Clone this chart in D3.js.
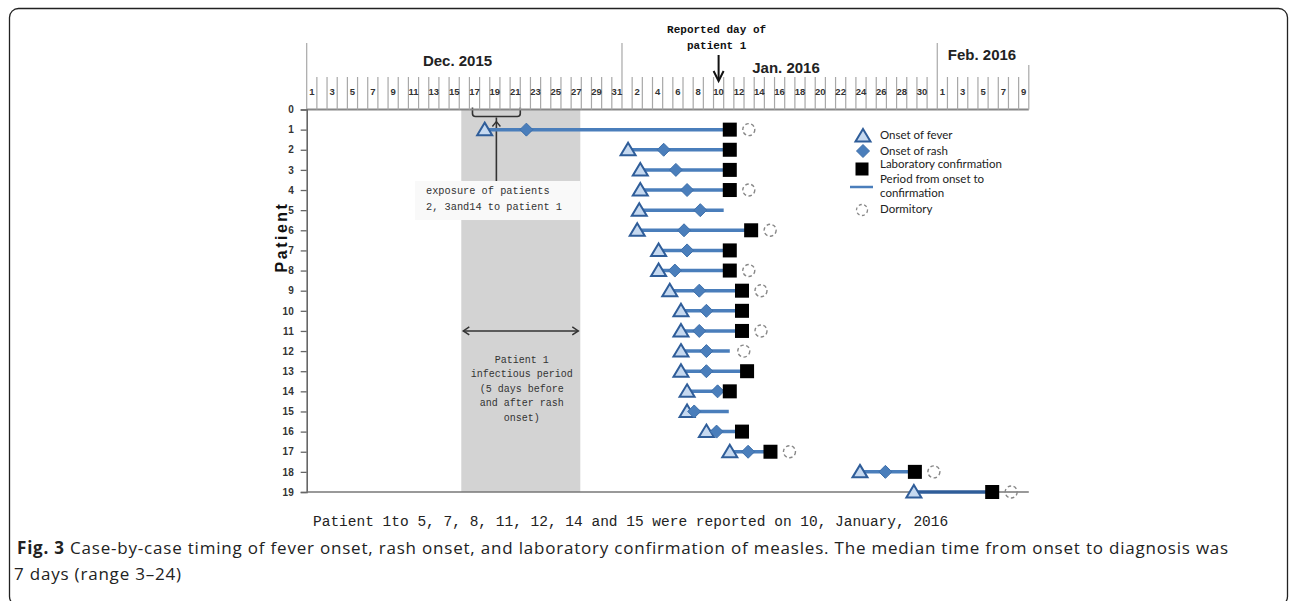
<!DOCTYPE html>
<html>
<head>
<meta charset="utf-8">
<script src="https://cdn.jsdelivr.net/npm/d3@7/dist/d3.min.js"></script>
<style>
  body { margin: 0; background: #fff; }
  svg { display: block; }
</style>
</head>
<body>
<div id="chart"></div>
<script>
// Day numbers counted from Dec 1, 2015 = 1 (Jan 1 = 32, Feb 1 = 63)
const patients = d3.range(1, 20);
const feverOnset = [18.0, 32.1, 33.3, 33.3, 33.2, 33.0, 35.1, 35.1, 36.2, 37.3, 37.3, 37.3, 37.3, 37.9, 37.9, 39.8, 42.1, 54.9, 60.2];
const rashOnset  = [22.1, 35.6, 36.8, 37.9, 39.2, 37.6, 37.9, 36.7, 39.1, 39.8, 39.1, 39.8, 39.8, 40.9, 38.6, 40.8, 43.9, 57.4, null];
const labConfirm = [42.1, 42.1, 42.1, 42.1, null, 44.2, 42.1, 42.1, 43.3, 43.3, 43.3, null, 43.8, 42.1, null, 43.3, 46.1, 60.3, 67.9];
const periodEnd  = [42.1, 42.1, 42.1, 42.1, 41.5, 44.2, 42.1, 42.1, 43.3, 43.3, 43.3, 42.1, 43.8, 42.1, 42.0, 43.3, 46.1, 60.3, 67.9];
const dormitory  = [true, false, false, true, false, true, false, true, true, false, true, true, false, false, false, false, true, true, true];

const months = [
  { name: 'Dec. 2015', days: 31 },
  { name: 'Jan. 2016', days: 31 },
  { name: 'Feb. 2016', days: 9 }
];
const reportDay = 41;              // Jan 10
const infectiousPeriod = [15.7, 27.4];
const exposureWindow = [16.8, 21.5];

const legendItems = ['Onset of fever', 'Onset of rash', 'Laboratory confirmation', 'Period from onset to|confirmation', 'Dormitory'];

const W = 1292, H = 601;
const blue = '#4a7ebb', darkBlue = '#2f5d99', lightBlue = '#c6d9f0';
const mono = '"Liberation Mono", "DejaVu Sans Mono", monospace';
const sans = '"Liberation Sans", Arial, sans-serif';
const capFont = '"Open Sans", "Noto Sans", sans-serif';

const svg = d3.select('#chart').append('svg')
  .attr('width', W).attr('height', H);

// frame
svg.append('rect')
  .attr('x', 9.5).attr('y', 8.5).attr('width', 1278).attr('height', 597)
  .attr('rx', 9).attr('fill', 'none').attr('stroke', '#222').attr('stroke-width', 1.3);

const totalDays = d3.sum(months, m => m.days);
const x = d3.scaleLinear().domain([0.5, totalDays + 0.5]).range([306.7, 1028.8]);
const y = d3.scaleLinear().domain([0, 19]).range([109.5, 492]);

// day labels
const dayList = [];
let start = 0;
months.forEach(m => {
  m.start = start;
  for (let k = 1; k <= m.days; k++) dayList.push({ d: start + k, label: k });
  start += m.days;
});

// infectious period band
svg.append('rect')
  .attr('x', x(infectiousPeriod[0])).attr('y', y(0))
  .attr('width', x(infectiousPeriod[1]) - x(infectiousPeriod[0]))
  .attr('height', y(19) - y(0))
  .attr('fill', '#d3d3d3');

// exposure box
svg.append('rect')
  .attr('x', 415).attr('y', y(3.55))
  .attr('width', x(infectiousPeriod[1]) - 415).attr('height', y(5.49) - y(3.55))
  .attr('fill', '#f9f9f9');
svg.append('text')
  .attr('x', 426).attr('y', y(4.2))
  .style('font-family', mono).style('font-size', '10.3px').attr('fill', '#333')
  .selectAll('tspan').data(['exposure of patients', '2, 3and14 to patient 1']).join('tspan')
  .attr('x', 426).attr('dy', (d, i) => i ? 16 : 0).text(d => d);

// exposure bracket and arrow
const bx0 = x(exposureWindow[0]), bx1 = x(exposureWindow[1]), bmid = (bx0 + bx1) / 2;
svg.append('path')
  .attr('d', `M${bx0},${y(0) - 2} V${y(0) + 4} q0,3 3,3 H${bx1 - 3} q3,0 3,-3 V${y(0) - 2}`)
  .attr('fill', 'none').attr('stroke', '#333').attr('stroke-width', 1.6);
svg.append('line')
  .attr('x1', bmid).attr('x2', bmid).attr('y1', y(0) + 8).attr('y2', y(3.55))
  .attr('stroke', '#333').attr('stroke-width', 1.6);
svg.append('path')
  .attr('d', `M${bmid - 4},${y(0) + 17} L${bmid},${y(0) + 12} L${bmid + 4},${y(0) + 17}`)
  .attr('fill', 'none').attr('stroke', '#333').attr('stroke-width', 1.4);

// infectious period double arrow
const ax0 = x(infectiousPeriod[0]) + 2, ax1 = x(infectiousPeriod[1]) - 2, ay = y(11);
svg.append('line').attr('x1', ax0).attr('x2', ax1).attr('y1', ay).attr('y2', ay)
  .attr('stroke', '#333').attr('stroke-width', 1.5);
svg.append('path')
  .attr('d', `M${ax0 + 6},${ay - 4} L${ax0},${ay} L${ax0 + 6},${ay + 4} M${ax1 - 6},${ay - 4} L${ax1},${ay} L${ax1 - 6},${ay + 4}`)
  .attr('fill', 'none').attr('stroke', '#333').attr('stroke-width', 1.5);
svg.append('text')
  .attr('text-anchor', 'middle')
  .style('font-family', mono).style('font-size', '10px').attr('fill', '#333')
  .selectAll('tspan').data(['Patient 1', 'infectious period', '(5 days before', 'and after rash', 'onset)']).join('tspan')
  .attr('x', (x(infectiousPeriod[0]) + x(infectiousPeriod[1])) / 2 + 1)
  .attr('y', (d, i) => 363 + i * 14.4).text(d => d);

// top ruler
const ruler = svg.append('g');
ruler.append('line')
  .attr('x1', x(0.5)).attr('x2', x(totalDays + 0.5)).attr('y1', y(0)).attr('y2', y(0))
  .attr('stroke', '#888').attr('stroke-width', 2);
const boundaries = d3.range(0, totalDays + 1).map(k => k + 0.5);
const monthStarts = months.map(m => m.start + 0.5);
ruler.selectAll('line.tick').data(boundaries).join('line')
  .attr('class', 'tick')
  .attr('x1', d => x(d)).attr('x2', d => x(d))
  .attr('y1', d => monthStarts.includes(d) ? 43 : (d === totalDays + 0.5 ? 65 : 77))
  .attr('y2', y(0))
  .attr('stroke', '#a8a8a8').attr('stroke-width', 1.2);
ruler.selectAll('text.day').data(dayList.filter(d => d.d % 2 === 1)).join('text')
  .attr('class', 'day')
  .attr('x', d => x(d.d)).attr('y', 95)
  .attr('text-anchor', 'middle')
  .style('font-family', sans).style('font-size', '9.5px').style('font-weight', 'bold')
  .attr('fill', '#333').text(d => d.label);
const monthPos = [[457.5, 66], [786, 73], [982, 60]];
ruler.selectAll('text.month').data(months).join('text')
  .attr('class', 'month')
  .attr('x', (d, i) => monthPos[i][0]).attr('y', (d, i) => monthPos[i][1])
  .attr('text-anchor', 'middle')
  .style('font-family', sans).style('font-size', '15px').style('font-weight', 'bold')
  .attr('fill', '#222').text(d => d.name);

// reported day
svg.append('text')
  .attr('text-anchor', 'middle')
  .style('font-family', mono).style('font-size', '11px').style('font-weight', 'bold').attr('fill', '#111')
  .selectAll('tspan').data(['Reported day of', 'patient 1']).join('tspan')
  .attr('x', x(reportDay) - 2).attr('y', (d, i) => 33 + i * 16).text(d => d);
svg.append('line')
  .attr('x1', x(reportDay)).attr('x2', x(reportDay)).attr('y1', 55).attr('y2', 79)
  .attr('stroke', '#111').attr('stroke-width', 2);
svg.append('path')
  .attr('d', `M${x(reportDay) - 5},${71} L${x(reportDay)},${81} L${x(reportDay) + 5},${71}`)
  .attr('fill', 'none').attr('stroke', '#111').attr('stroke-width', 2);

// y axis
const yAxis = svg.append('g')
  .attr('transform', `translate(${x(0.5)},0)`)
  .call(d3.axisLeft(y).tickValues(d3.range(0, 20)).tickSize(6).tickPadding(7));
yAxis.select('.domain').attr('stroke', '#666').attr('stroke-width', 1.6);
yAxis.selectAll('.tick line').attr('stroke', '#666').attr('stroke-width', 1.3);
yAxis.selectAll('.tick text')
  .style('font-family', sans).style('font-size', '10px').style('font-weight', 'bold').attr('fill', '#333');
svg.append('text')
  .attr('transform', `translate(287,237) rotate(-90)`)
  .attr('text-anchor', 'middle')
  .style('font-family', sans).style('font-size', '16px').style('font-weight', 'bold')
  .style('letter-spacing', '2.5px').attr('fill', '#111').text('Patient');

// bottom axis line
svg.append('line')
  .attr('x1', x(0.5)).attr('x2', x(totalDays + 0.5)).attr('y1', y(19)).attr('y2', y(19))
  .attr('stroke', '#777').attr('stroke-width', 1.6);

// patient rows
const rows = patients.map((p, i) => ({
  p, fever: feverOnset[i], rash: rashOnset[i], lab: labConfirm[i], end: periodEnd[i], dorm: dormitory[i]
}));
const triPath = 'M0,-7 L7.5,5.5 L-7.5,5.5 Z';
const diaPath = 'M0,-6.5 L6.5,0 L0,6.5 L-6.5,0 Z';

const g = svg.append('g');
g.selectAll('line.period').data(rows).join('line')
  .attr('class', 'period')
  .attr('x1', d => x(d.fever)).attr('x2', d => x(d.end))
  .attr('y1', d => y(d.p)).attr('y2', d => y(d.p))
  .attr('stroke', d => d.p === 19 ? darkBlue : blue).attr('stroke-width', 3.5);
g.selectAll('circle.dorm').data(rows.filter(d => d.dorm)).join('circle')
  .attr('class', 'dorm')
  .attr('cx', d => x(d.end) + (d.lab === null ? 14 : 19)).attr('cy', d => y(d.p)).attr('r', 6)
  .attr('fill', 'none').attr('stroke', '#888').attr('stroke-width', 1.4).attr('stroke-dasharray', '3.5,2.5');
g.selectAll('path.fever').data(rows).join('path')
  .attr('class', 'fever')
  .attr('transform', d => `translate(${x(d.fever)},${y(d.p)})`)
  .attr('d', triPath).attr('fill', lightBlue).attr('stroke', darkBlue).attr('stroke-width', 2);
g.selectAll('path.rash').data(rows.filter(d => d.rash !== null)).join('path')
  .attr('class', 'rash')
  .attr('transform', d => `translate(${x(d.rash)},${y(d.p)})`)
  .attr('d', diaPath).attr('fill', blue).attr('stroke', '#3d6faa').attr('stroke-width', 1);
g.selectAll('rect.lab').data(rows.filter(d => d.lab !== null)).join('rect')
  .attr('class', 'lab')
  .attr('x', d => x(d.lab) - 7).attr('y', d => y(d.p) - 7)
  .attr('width', 14).attr('height', 14).attr('fill', '#000');

// legend
const lg = svg.append('g');
const lgY = [135, 151, 169, 187, 210];
lg.append('path').attr('transform', `translate(863,${lgY[0] + 1})`).attr('d', triPath)
  .attr('fill', lightBlue).attr('stroke', darkBlue).attr('stroke-width', 2);
lg.append('path').attr('transform', `translate(863,${lgY[1]})`).attr('d', diaPath)
  .attr('fill', blue).attr('stroke', '#3d6faa');
lg.append('rect').attr('x', 855.5).attr('y', lgY[2] - 6.5).attr('width', 13).attr('height', 13).attr('fill', '#000');
lg.append('line').attr('x1', 850).attr('x2', 873).attr('y1', lgY[3]).attr('y2', lgY[3])
  .attr('stroke', blue).attr('stroke-width', 2.5);
lg.append('circle').attr('cx', 862).attr('cy', lgY[4]).attr('r', 5.5)
  .attr('fill', 'none').attr('stroke', '#888').attr('stroke-width', 1.3).attr('stroke-dasharray', '3,2.5');
const lgTextY = [139, 154.5, 167.5, 183, 213];
legendItems.forEach((t, i) => {
  lg.append('text')
    .attr('x', 880).attr('y', lgTextY[i])
    .style('font-family', 'Lato, "Open Sans", sans-serif').style('font-size', '11.5px')
    .attr('fill', '#222')
    .selectAll('tspan').data(t.split('|')).join('tspan')
    .attr('x', 880).attr('dy', (d, j) => j ? 14 : 0).text(d => d);
});

// note below chart
svg.append('text')
  .attr('x', 313).attr('y', 526)
  .style('font-family', mono).style('font-size', '14.5px').attr('fill', '#222')
  .text('Patient 1to 5, 7, 8, 11, 12, 14 and 15 were reported on 10, January, 2016');

// figure caption, stretched to the width of the printed caption
const cap = svg.append('text')
  .attr('x', 17).attr('y', 554)
  .style('font-family', capFont).style('font-size', '17px').attr('fill', '#222');
cap.append('tspan').style('font-weight', 'bold').text('Fig. 3');
cap.append('tspan').text(' Case-by-case timing of fever onset, rash onset, and laboratory confirmation of measles. The median time from onset to diagnosis was');
const capW = cap.node().getComputedTextLength();
const nChars = cap.text().length;
const spacing = Math.max(0, (1212 - capW) / nChars);
cap.style('letter-spacing', spacing + 'px');
svg.append('text')
  .attr('x', 14).attr('y', 580)
  .style('font-family', capFont).style('font-size', '17px').attr('fill', '#222')
  .style('letter-spacing', spacing + 'px')
  .text('7 days (range 3–24)');
</script>
</body>
</html>
